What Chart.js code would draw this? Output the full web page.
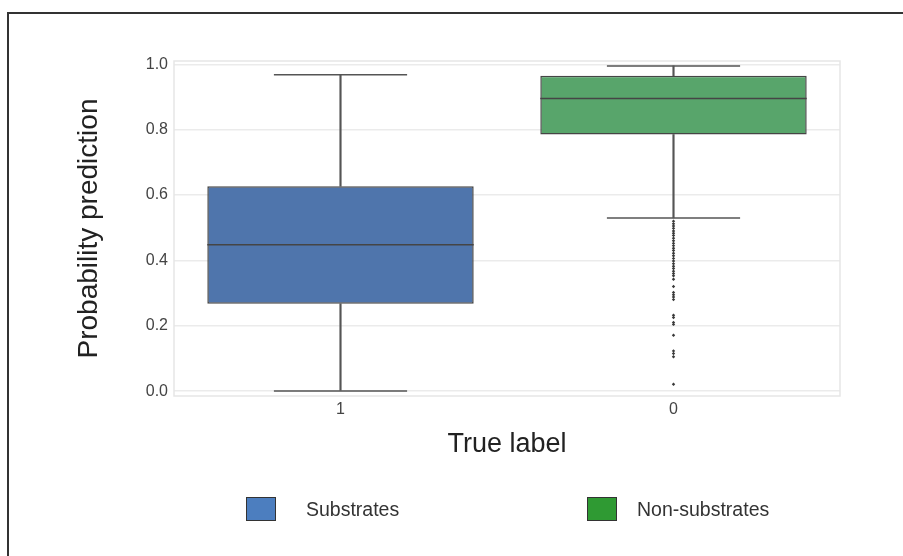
<!DOCTYPE html>
<html>
<head>
<meta charset="utf-8">
<script src="https://cdn.jsdelivr.net/npm/chart.js@4.4.1/dist/chart.umd.min.js"></script>
<style>
  html, body { margin: 0; padding: 0; background: #fff; }
  body { width: 903px; height: 556px; position: relative; overflow: hidden; font-family: "Liberation Sans", Arial, sans-serif; }
  #frame { position: absolute; left: 7px; top: 12px; width: 1000px; height: 700px; border-left: 2px solid #333; border-top: 2px solid #333; }
  #chart { position: absolute; left: 0; top: 0; }
  #legend { position: absolute; left: 0; width: 903px; top: 497px; height: 25px; }
  .swatch { position: absolute; top: 0; width: 28px; height: 22px; border: 1.5px solid #333; box-sizing: content-box; }
  .label { position: absolute; top: 0; line-height: 25px; font-size: 19.5px; color: #333; white-space: nowrap; }
</style>
</head>
<body>
<div id="frame"></div>
<canvas id="chart" width="903" height="556"></canvas>
<div id="legend"></div>
<script>
// Categories on the x axis (true label)
const categories = ['1', '0'];
const seriesNames = ['Substrates', 'Non-substrates'];

// Five-number summaries per category
const whiskerLow  = [0.0, 0.53];
const quartile1   = [0.267, 0.785];
const medians     = [0.448, 0.895];
const quartile3   = [0.627, 0.965];
const whiskerHigh = [0.968, 0.995];

// Points beyond the whiskers for the "0" group
const outliersZero = [0.52, 0.512, 0.505, 0.498, 0.49, 0.483, 0.476, 0.468, 0.46, 0.452,
  0.445, 0.437, 0.43, 0.422, 0.414, 0.406, 0.398, 0.39, 0.382, 0.375, 0.367, 0.36, 0.353,
  0.342, 0.32, 0.302, 0.295, 0.288, 0.28, 0.232, 0.225, 0.21, 0.204, 0.171, 0.123, 0.115,
  0.105, 0.021];

// Y axis tick values
const yTicks = [0.0, 0.2, 0.4, 0.6, 0.8, 1.0];

const boxColors = ['#4f75ac', '#58a56b'];
const legendColors = ['#4c7ebf', '#2f9a33'];
const legendSwatchLeft = [246, 587];
const legendTextLeft = [306, 637];
const edgeColor = '#454545';
const lineColor = '#555555';

// Half of a box's pixel width, from the category scale
function boxHalf(ctx, frac) {
  const x = ctx.chart.scales.x;
  if (!x) return 0;
  return (x.width / categories.length) * 0.8 * frac / 2;
}

const framePlugin = {
  id: 'plotFrame',
  beforeDatasetsDraw(chart) {
    const {ctx, chartArea: a} = chart;
    ctx.save();
    ctx.strokeStyle = '#e6e6e6';
    ctx.lineWidth = 1.5;
    ctx.strokeRect(a.left, a.top, a.right - a.left, a.bottom - a.top);
    ctx.restore();
  }
};

const datasets = [
  {
    type: 'line', label: 'medians', order: 0,
    data: categories.map((c, i) => ({x: c, y: medians[i]})),
    showLine: false, pointStyle: 'line',
    pointRadius: ctx => boxHalf(ctx, 1), pointHoverRadius: ctx => boxHalf(ctx, 1),
    borderColor: edgeColor, pointBorderWidth: 1.5, pointBorderColor: edgeColor
  },
  {
    type: 'bar', label: 'boxes', order: 1,
    data: categories.map((c, i) => [quartile1[i], quartile3[i]]),
    backgroundColor: boxColors, borderColor: edgeColor, borderWidth: 1.5,
    borderSkipped: false, barPercentage: 0.8, categoryPercentage: 1, grouped: false
  },
  {
    type: 'bar', label: 'lower whiskers', order: 2,
    data: categories.map((c, i) => [whiskerLow[i], quartile1[i]]),
    backgroundColor: lineColor, barThickness: 1.5, grouped: false
  },
  {
    type: 'bar', label: 'upper whiskers', order: 2,
    data: categories.map((c, i) => [quartile3[i], whiskerHigh[i]]),
    backgroundColor: lineColor, barThickness: 1.5, grouped: false
  },
  {
    type: 'line', label: 'caps', order: 3,
    data: categories.flatMap((c, i) => [{x: c, y: whiskerLow[i]}, {x: c, y: whiskerHigh[i]}]),
    showLine: false, pointStyle: 'line',
    pointRadius: ctx => boxHalf(ctx, 0.5), pointHoverRadius: ctx => boxHalf(ctx, 0.5),
    borderColor: lineColor, pointBorderWidth: 1.5, pointBorderColor: lineColor
  },
  {
    type: 'line', label: 'outliers', order: 4,
    data: outliersZero.map(v => ({x: categories[1], y: v})),
    showLine: false, pointStyle: 'rectRot', pointRadius: 1.7,
    pointBackgroundColor: '#3a3a3a', pointBorderColor: '#3a3a3a', pointBorderWidth: 0
  }
];

new Chart(document.getElementById('chart'), {
  data: { labels: categories, datasets },
  plugins: [framePlugin],
  options: {
    responsive: false,
    animation: false,
    layout: { padding: { left: 68, top: 61, right: 63, bottom: 90 } },
    plugins: { legend: { display: false }, tooltip: { enabled: false } },
    scales: {
      x: {
        type: 'category',
        offset: true,
        grid: { display: false, drawTicks: false },
        border: { display: false },
        ticks: { padding: 4, color: '#444', font: { family: 'Liberation Sans', size: 16 } },
        title: { display: true, text: 'True label', color: '#222',
                 font: { family: 'Liberation Sans', size: 27 }, padding: { top: 0, bottom: 5 } },
        afterFit(scale) { scale.height = 70; }
      },
      y: {
        min: -0.015, max: 1.01,
        grid: { color: '#ebebeb', lineWidth: 1.5, drawTicks: false },
        border: { display: false },
        afterBuildTicks(scale) { scale.ticks = yTicks.map(v => ({value: v})); },
        ticks: { padding: 6, color: '#444', font: { family: 'Liberation Sans', size: 16 } ,
                 callback: v => Number(v).toFixed(1) },
        title: { display: true, text: 'Probability prediction', color: '#222',
                 font: { family: 'Liberation Sans', size: 28 }, padding: { top: 4, bottom: 0 } },
        afterFit(scale) { scale.width = 106; }
      }
    }
  }
});

// Legend row under the chart
const legend = document.getElementById('legend');
seriesNames.forEach((name, i) => {
  const sw = document.createElement('div');
  sw.className = 'swatch';
  sw.style.left = legendSwatchLeft[i] + 'px';
  sw.style.background = legendColors[i];
  const lb = document.createElement('span');
  lb.className = 'label';
  lb.style.left = legendTextLeft[i] + 'px';
  lb.textContent = name;
  legend.appendChild(sw);
  legend.appendChild(lb);
});
</script>
</body>
</html>
